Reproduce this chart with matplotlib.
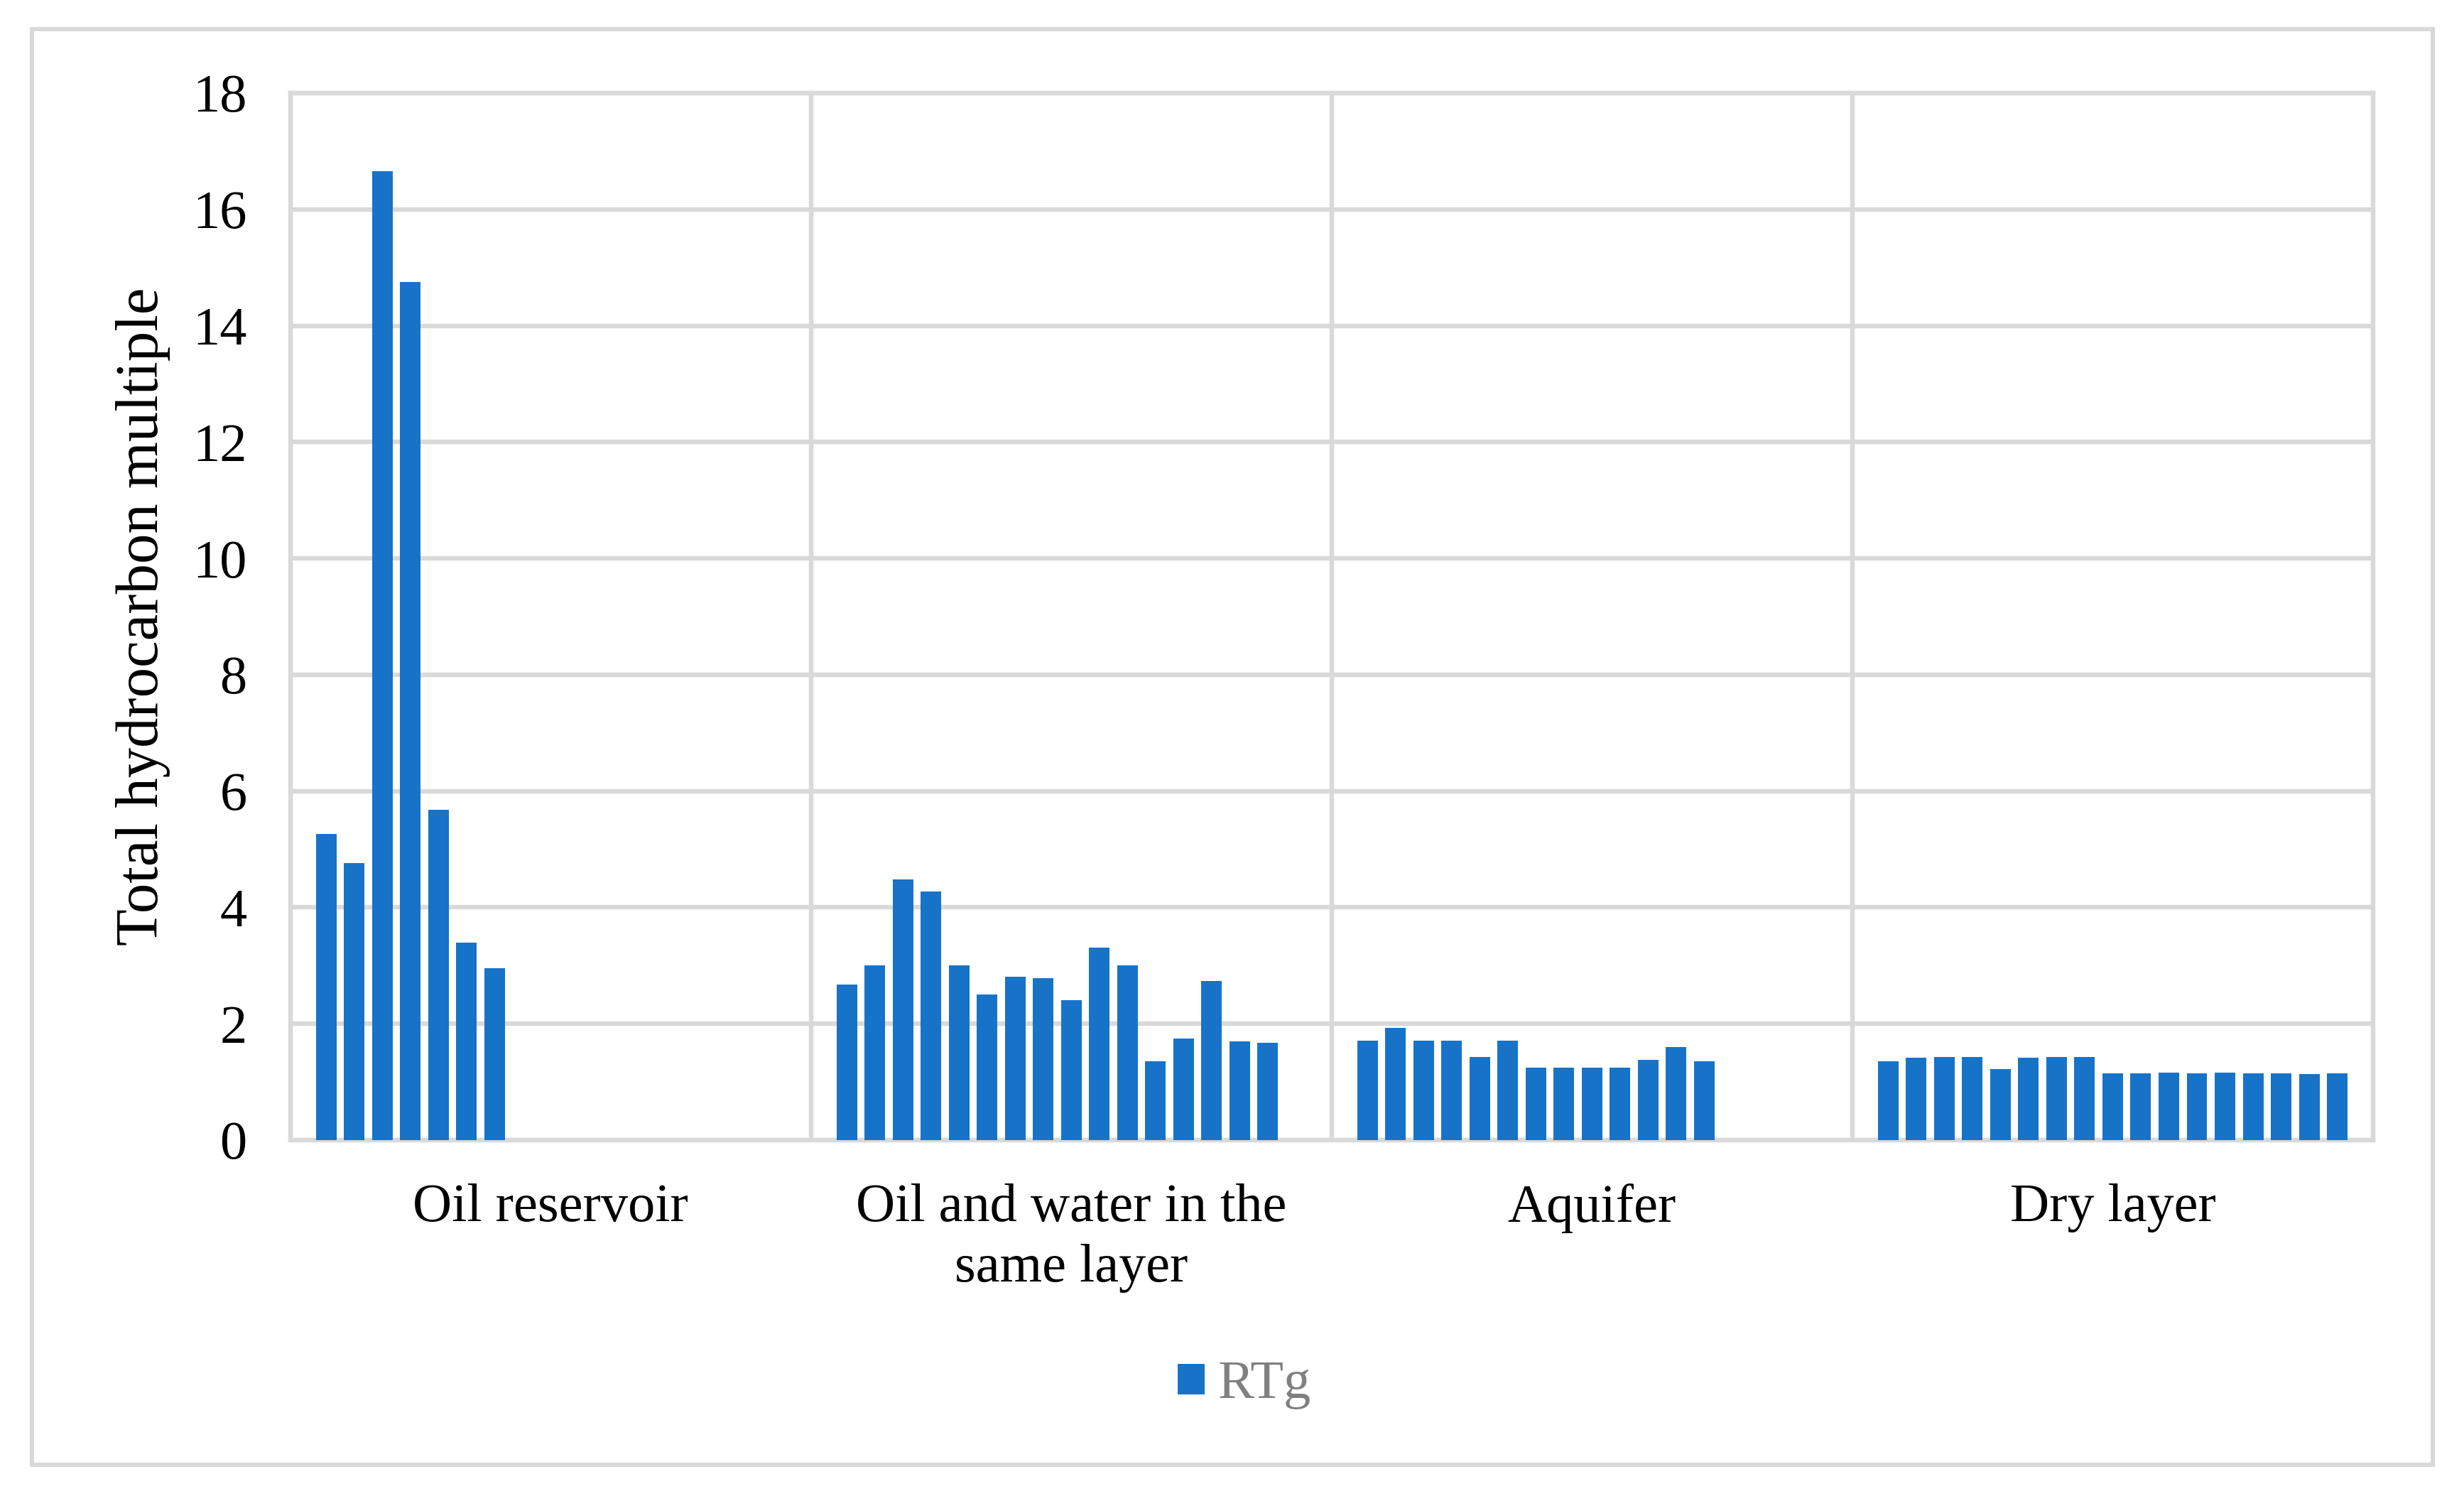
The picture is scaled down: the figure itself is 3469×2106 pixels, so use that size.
import numpy as np
import matplotlib
matplotlib.use("Agg")
import matplotlib.pyplot as plt
from matplotlib.patches import Rectangle

# ---- data ----
categories = ["Oil reservoir", "Oil and water in the\nsame layer", "Aquifer", "Dry layer"]
oil_reservoir = [5.26, 4.76, 16.66, 14.75, 5.68, 3.39, 2.96]
oil_water = [2.67, 3.00, 4.48, 4.27, 3.00, 2.50, 2.81, 2.78, 2.40, 3.31, 3.00,
             1.36, 1.75, 2.73, 1.70, 1.67]
aquifer = [1.71, 1.93, 1.71, 1.71, 1.43, 1.71, 1.25, 1.25, 1.25, 1.25, 1.38, 1.60, 1.35]
dry_layer = [1.35, 1.42, 1.43, 1.43, 1.22, 1.42, 1.43, 1.43, 1.15, 1.15, 1.16, 1.15,
             1.16, 1.15, 1.15, 1.14, 1.15]
series_name = "RTg"
y_ticks = [0, 2, 4, 6, 8, 10, 12, 14, 16, 18]
y_label = "Total hydrocarbon multiple"

groups = [oil_reservoir, oil_water, aquifer, dry_layer]
n_slots = max(len(g) for g in groups)

plt.rcParams['font.family'] = ['Liberation Serif', 'DejaVu Serif']

W, H = 3469, 2106
DPI = 100
fig = plt.figure(figsize=(W / DPI, H / DPI), dpi=DPI)
ax = fig.add_axes([408.7 / W, 1 - 1605 / H, (3341 - 408.7) / W, (1605 - 131) / H])

grid_col = "#D9D9D9"
bar_col = "#1773C8"
lw = 4.6

slot = 0.0539
bw = 0.0395
first = True
for ci, vals in enumerate(groups):
    xs = ci + (np.arange(len(vals)) - (n_slots - 1) / 2) * slot
    ax.bar(xs, vals, width=bw, color=bar_col, zorder=3,
           label=series_name if first else None)
    first = False

ax.set_xlim(-0.5, len(categories) - 0.5)
ax.set_ylim(0, 18)
ax.set_yticks(y_ticks)
ax.set_yticklabels([str(t) for t in y_ticks], fontsize=55)
ax.set_xticks(range(len(categories)))
ax.set_xticklabels(categories, fontsize=55, linespacing=1.3)
ax.set_xticks(np.arange(-0.5, len(categories) - 0.4, 1.0), minor=True)
ax.tick_params(axis='both', which='both', length=0)
ax.tick_params(axis='y', pad=44)
ax.tick_params(axis='x', pad=44)

ax.grid(axis='y', which='major', color=grid_col, linewidth=lw, zorder=0)
ax.grid(axis='x', which='minor', color=grid_col, linewidth=lw, zorder=0)
ax.grid(axis='x', which='major', visible=False)
for s in ax.spines.values():
    s.set_color(grid_col)
    s.set_linewidth(lw)
ax.set_axisbelow(True)

ax.set_ylabel(y_label, fontsize=61)
ax.yaxis.set_label_coords(-0.0575, 0.5, transform=ax.transAxes)

leg = fig.legend(loc='center', bbox_to_anchor=(0.505, 1 - 1950 / H), frameon=False,
                 fontsize=55, handlelength=0.5, handleheight=0.5, handletextpad=0.25)
for t in leg.get_texts():
    t.set_color("#808080")

# outer chart border
fig.patches.append(Rectangle((45 / W, 1 - 2062 / H), (3425 - 45) / W, (2062 - 41) / H,
                             transform=fig.transFigure, fill=False,
                             edgecolor=grid_col, linewidth=4.3))

fig.savefig("out.png", dpi=DPI, facecolor="white")
